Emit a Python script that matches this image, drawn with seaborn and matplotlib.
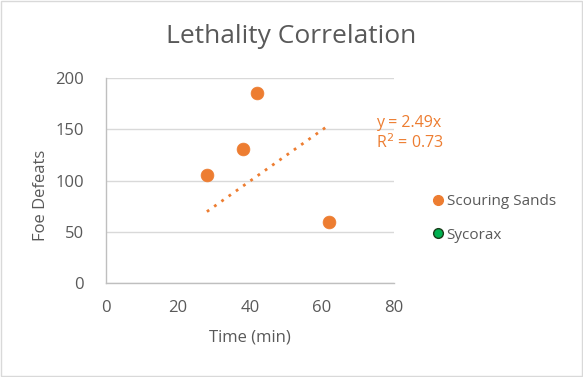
import numpy as np
import pandas as pd
import matplotlib
matplotlib.use("Agg")
import matplotlib.pyplot as plt
import seaborn as sns
from matplotlib.lines import Line2D
from matplotlib.patches import Rectangle

# data
series_names = ["Scouring Sands", "Sycorax"]
sands_time = [28, 38, 42, 62]
sands_defeats = [105, 131, 185, 60]
sycorax_time = []
sycorax_defeats = []
trend_slope = 2.49
trend_label = "y = 2.49x\nR$^2$ = 0.73"

orange = "#ED7D31"
green = "#00B050"
grey_txt = "#595959"

sns.set_style("white")
plt.rcParams["font.family"] = ["Open Sans", "DejaVu Sans"]

fig = plt.figure(figsize=(5.83, 3.77), dpi=100)
ax = fig.add_axes([0.182, 0.249, 0.494, 0.544])

df = pd.DataFrame({"time": sands_time, "defeats": sands_defeats})
sns.scatterplot(data=df, x="time", y="defeats", ax=ax, color=orange,
                s=85, edgecolor=orange, linewidth=0.5, zorder=3)

# linear trendline through origin, spanning the data range
tx = np.array([min(sands_time), max(sands_time)])
trend = pd.DataFrame({"time": tx, "defeats": trend_slope * tx})
sns.lineplot(data=trend, x="time", y="defeats", ax=ax, color=orange,
             linestyle=(0, (1, 2.2)), linewidth=2, zorder=2)
ax.text(75, 146, trend_label, color=orange, fontsize=11.5,
        ha="left", va="center", linespacing=1.15, clip_on=False)

ax.set_xlim(0, 80)
ax.set_ylim(0, 200)
ax.set_xticks(range(0, 81, 20))
ax.set_yticks(range(0, 201, 50))
ax.yaxis.grid(True, color="#d9d9d9", linewidth=1)
ax.xaxis.grid(False)
ax.set_axisbelow(True)
for side in ["top", "right"]:
    ax.spines[side].set_visible(False)
for side in ["left", "bottom"]:
    ax.spines[side].set_color("#bfbfbf")
    ax.spines[side].set_linewidth(1)
ax.tick_params(axis="both", colors=grey_txt, labelsize=12, length=0)
ax.tick_params(axis="x", pad=12)
ax.tick_params(axis="y", pad=16)

ax.set_xlabel("Time (min)", fontsize=12, color=grey_txt, labelpad=10)
ax.set_ylabel("Foe Defeats", fontsize=12, color=grey_txt)
ax.yaxis.set_label_coords(-0.2, 0.43)
fig.suptitle("Lethality Correlation", fontsize=19, color=grey_txt, y=0.937)

handles = [
    Line2D([], [], marker="o", linestyle="none", markersize=7,
           markerfacecolor=orange, markeredgecolor=orange),
    Line2D([], [], marker="o", linestyle="none", markersize=7,
           markerfacecolor=green, markeredgecolor="#1a3d1a"),
]
fig.legend(handles, series_names, loc="center left",
           bbox_to_anchor=(0.728, 0.42), frameon=False, fontsize=11,
           labelcolor=grey_txt, handletextpad=0.05, labelspacing=1.2,
           borderaxespad=0, handlelength=1.0)

fig.patches.append(Rectangle((0.002, 0.003), 0.996, 0.994, transform=fig.transFigure,
                             fill=False, edgecolor="#d9d9d9", linewidth=1))

fig.savefig("out.png", dpi=100)
